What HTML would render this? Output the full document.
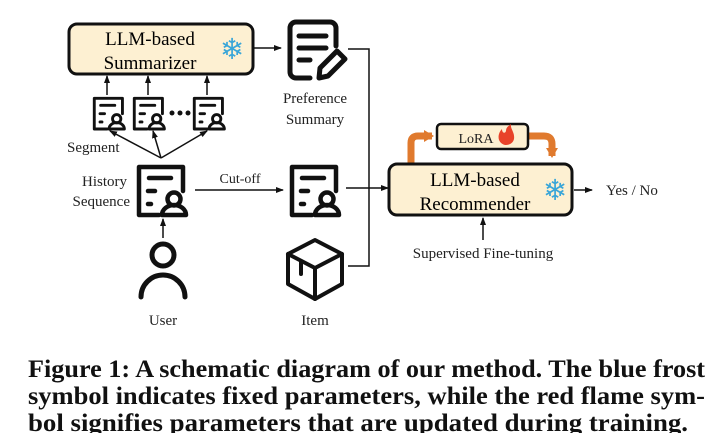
<!DOCTYPE html>
<html><head><meta charset="utf-8"><style>
html,body{margin:0;padding:0;background:#fff;}
svg{display:block;}
</style></head><body>
<svg width="720" height="433" viewBox="0 0 720 433" xmlns="http://www.w3.org/2000/svg" font-family="Liberation Serif, serif">
<defs>
<marker id="ah" markerWidth="8" markerHeight="8" refX="7" refY="4" orient="auto" markerUnits="userSpaceOnUse"><path d="M0,1 L8,4 L0,7 z" fill="#111"/></marker>
<marker id="oh" markerWidth="12" markerHeight="12" refX="8" refY="6" orient="auto" markerUnits="userSpaceOnUse"><path d="M0,0 L10,6 L0,12 z" fill="#e07a2e"/></marker>
<g id="doc" fill="none" stroke="#111" stroke-linecap="round" stroke-linejoin="round">
  <path d="M22 50 H2 V2 H46 V26" stroke-width="4.5"/>
  <line x1="12" y1="13" x2="34" y2="13" stroke-width="4.5"/>
  <line x1="11" y1="26" x2="18" y2="26" stroke-width="4.5"/>
  <line x1="11" y1="39" x2="14" y2="39" stroke-width="4.5"/>
  <circle cx="37" cy="34" r="6.5" stroke-width="4.5"/>
  <path d="M25 50 A12 10 0 0 1 49 50 Z" stroke-width="4.5"/>
</g>
</defs>
<!-- Summarizer -->
<rect x="69" y="24" width="184" height="50" rx="8" fill="#fdf0d2" stroke="#111" stroke-width="3"/>
<text x="150" y="45" font-size="19" text-anchor="middle">LLM-based</text>
<text x="150" y="69" font-size="19" text-anchor="middle">Summarizer</text>
<text x="232" y="59" font-size="29" text-anchor="middle" fill="#3aa6d8" font-family="DejaVu Sans">❄</text>
<line x1="253" y1="48" x2="281" y2="48" stroke="#111" stroke-width="1.5" marker-end="url(#ah)"/>
<!-- Preference doc -->
<g fill="none" stroke="#111" stroke-width="5" stroke-linecap="round" stroke-linejoin="round">
<path d="M310 78 H296 A6 6 0 0 1 290 72 V28 A6 6 0 0 1 296 22 H330 A6 6 0 0 1 336 28 V46"/>
<line x1="299" y1="36" x2="326" y2="36"/><line x1="299" y1="48" x2="326" y2="48"/><line x1="299" y1="60" x2="310" y2="60"/>
<path d="M319 78 L320 68 L337 51 L345 59 L328 76 Z"/>
</g>
<text x="315" y="103" font-size="15" text-anchor="middle" fill="#222">Preference</text>
<text x="315" y="124" font-size="15" text-anchor="middle" fill="#222">Summary</text>
<!-- right bus -->
<polyline points="348,49 369,49 369,266 348,266" fill="none" stroke="#111" stroke-width="1.5"/>
<line x1="346" y1="188" x2="388" y2="188" stroke="#111" stroke-width="1.5" marker-end="url(#ah)"/>
<!-- small docs -->
<use href="#doc" transform="translate(93,97) scale(0.64)"/>
<use href="#doc" transform="translate(133,97) scale(0.64)"/>
<use href="#doc" transform="translate(193,97) scale(0.64)"/>
<circle cx="172" cy="113" r="2.5" fill="#111"/><circle cx="180" cy="113" r="2.5" fill="#111"/><circle cx="188" cy="113" r="2.5" fill="#111"/>
<g stroke="#111" stroke-width="1.5">
<line x1="107" y1="95" x2="107" y2="76" marker-end="url(#ah)"/>
<line x1="148" y1="95" x2="148" y2="76" marker-end="url(#ah)"/>
<line x1="207" y1="95" x2="207" y2="76" marker-end="url(#ah)"/>
<line x1="161" y1="158" x2="110" y2="131" marker-end="url(#ah)"/>
<line x1="161" y1="158" x2="153" y2="131" marker-end="url(#ah)"/>
<line x1="161" y1="158" x2="207" y2="131" marker-end="url(#ah)"/>
</g>
<text x="67" y="152" font-size="15" fill="#222">Segment</text>
<text x="127" y="186" font-size="15" text-anchor="end" fill="#222">History</text>
<text x="130" y="206" font-size="15" text-anchor="end" fill="#222">Sequence</text>
<!-- big docs -->
<use href="#doc" transform="translate(137,165)"/>
<use href="#doc" transform="translate(290,165)"/>
<line x1="195" y1="190" x2="283" y2="190" stroke="#111" stroke-width="1.5" marker-end="url(#ah)"/>
<text x="240" y="183" font-size="14" text-anchor="middle" fill="#222">Cut-off</text>
<line x1="163" y1="238" x2="163" y2="219" stroke="#111" stroke-width="1.5" marker-end="url(#ah)"/>
<!-- user -->
<circle cx="163" cy="255" r="11" fill="none" stroke="#111" stroke-width="5"/>
<path d="M141 297 A22 22 0 0 1 185 297" fill="none" stroke="#111" stroke-width="5" stroke-linecap="round"/>
<text x="163" y="325" font-size="15" text-anchor="middle" fill="#222">User</text>
<!-- cube -->
<g fill="none" stroke="#111" stroke-width="4" stroke-linejoin="round" stroke-linecap="round">
<path d="M315 240 L342 254 L342 284 L315 299 L288 284 L288 254 Z"/>
<path d="M288 254 L315 268 L342 254 M315 268 V299"/>
<path d="M301 261 V274"/>
</g>
<text x="315" y="325" font-size="15" text-anchor="middle" fill="#222">Item</text>
<!-- LoRA -->
<path d="M411 163 V143 Q411 136 418 136 H432" fill="none" stroke="#e07a2e" stroke-width="7" marker-end="url(#oh)"/>
<path d="M529 136 H544 Q552 136 552 144 V156" fill="none" stroke="#e07a2e" stroke-width="7" marker-end="url(#oh)"/>
<rect x="437" y="124" width="91" height="25" rx="4" fill="#fdf0d2" stroke="#111" stroke-width="2.5"/>
<text x="476" y="143" font-size="14" text-anchor="middle" fill="#222">LoRA</text>
<path d="M505 145 C497 143 497 134 502 129 C502 133 505 134 506 131 C506 127 509 126 511 124 C510 129 515 132 514 139 C513 143 510 145 505 145 Z" fill="#e8432a"/>
<!-- Recommender -->
<rect x="389" y="164" width="183" height="51" rx="8" fill="#fdf0d2" stroke="#111" stroke-width="3"/>
<text x="475" y="186" font-size="19" text-anchor="middle">LLM-based</text>
<text x="475" y="210" font-size="19" text-anchor="middle">Recommender</text>
<text x="555" y="200" font-size="29" text-anchor="middle" fill="#3aa6d8" font-family="DejaVu Sans">❄</text>
<line x1="574" y1="190" x2="592" y2="190" stroke="#111" stroke-width="1.5" marker-end="url(#ah)"/>
<text x="606" y="195" font-size="15" fill="#222">Yes / No</text>
<line x1="483" y1="240" x2="483" y2="218" stroke="#111" stroke-width="1.5" marker-end="url(#ah)"/>
<text x="483" y="258" font-size="15" text-anchor="middle" fill="#222">Supervised Fine-tuning</text>
<!-- caption -->
<g font-size="25" font-weight="bold" fill="#111">
<text x="28" y="377" textLength="677" lengthAdjust="spacingAndGlyphs">Figure 1: A schematic diagram of our method. The blue frost</text>
<text x="28" y="404" textLength="677" lengthAdjust="spacingAndGlyphs">symbol indicates fixed parameters, while the red flame sym-</text>
<text x="28" y="431" textLength="660" lengthAdjust="spacingAndGlyphs">bol signifies parameters that are updated during training.</text>
</g>
</svg>
</body></html>
